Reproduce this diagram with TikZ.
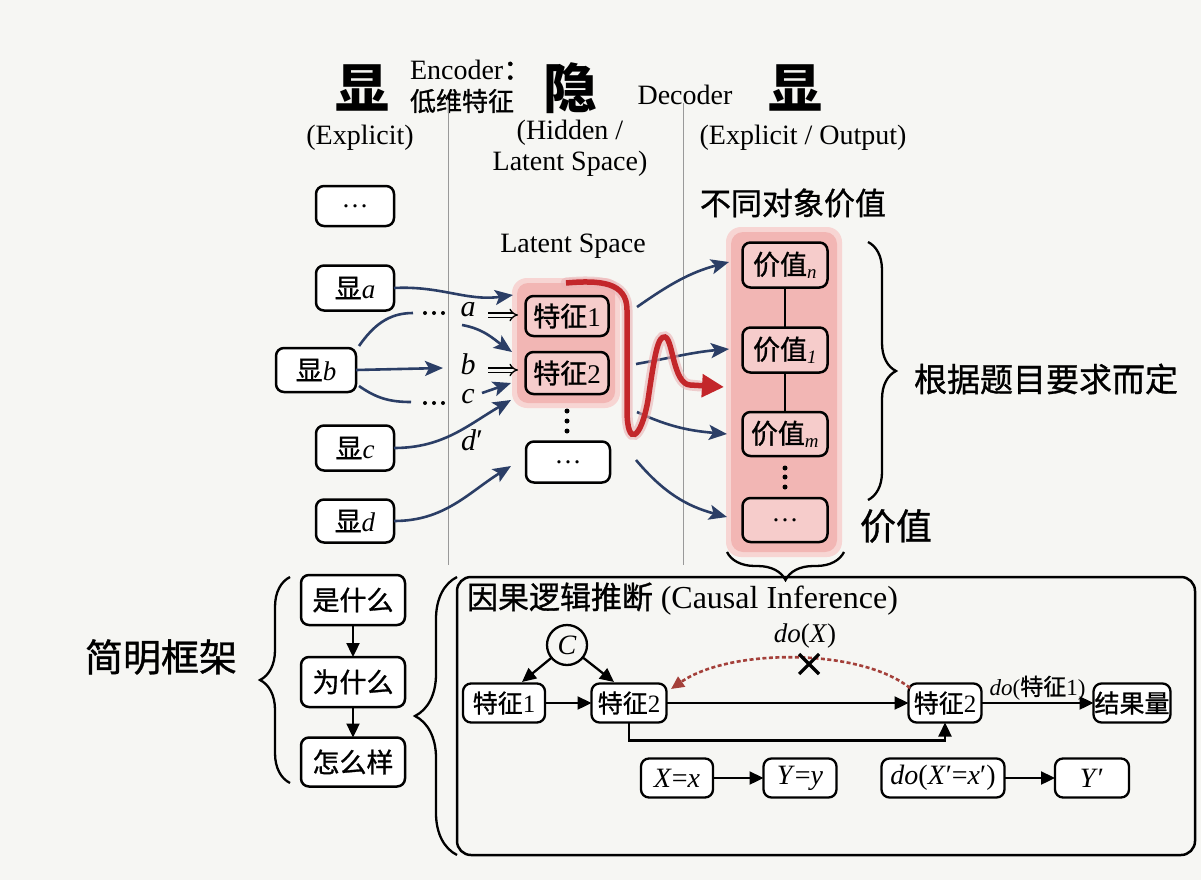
\documentclass[tikz,border=0pt]{standalone}
\usepackage{fontspec}
\setmainfont{Liberation Serif}
\newfontfamily\cjk{Noto Sans CJK SC}[FakeBold=1]
\newfontfamily\cjkbig{Noto Sans CJK SC}
\usetikzlibrary{arrows.meta,decorations.pathreplacing,calc}
\definecolor{bgc}{HTML}{F6F6F3}
\definecolor{navy}{HTML}{2B3E66}
\definecolor{pinkf}{HTML}{F2B6B4}
\definecolor{pinkb}{HTML}{F7D5D3}
\definecolor{wred}{HTML}{C3262A}
\definecolor{dred}{HTML}{A4403A}
\newcommand{\fsz}[2]{\fontsize{#1pt}{#2pt}\selectfont}
\newcommand{\zh}[1]{{\cjk #1}}
\begin{document}
\begin{tikzpicture}[x=1pt,y=-1pt,
  every node/.style={inner sep=0pt,outer sep=0pt},
  box/.style={draw,line width=2.5pt,rounded corners=8pt,fill=white,font=\fsz{27}{32}},
  pbox/.style={box,fill=pinkf!70!white},
  cbox/.style={box,line width=2.3pt,font=\fsz{25}{30},minimum height=39pt},
  mbox/.style={cbox,font=\fsz{28}{32}},
  barrow/.style={draw=navy,line width=2.6pt,-{Stealth[length=18pt,width=15pt,inset=4pt]}},
  bline/.style={draw=navy,line width=2.6pt},
  karrow/.style={draw=black,line width=2.3pt,-{Triangle[length=14pt,width=13pt]}},
  brc/.style={decorate,decoration={brace,amplitude=#1},line width=2.3pt},
  hdr/.style={font=\fsz{28}{31}},
  big/.style={font=\fsz{54}{60}\cjkbig\bfseries},
  dbl/.style={double=bgc,double distance=3pt,line width=1.3pt,-{Implies}},
]
\fill[bgc] (0,0) rectangle (1201,880);
\useasboundingbox (0,0) rectangle (1201,880);

% ---------- header ----------
\node[big] (xian1) at (362,88) {显};
\node[hdr,anchor=west] (enc1) at (410,70) {Encoder\zh{：}};
\node[anchor=west,font=\fsz{26}{30}\cjk] (enc2) at (410,101) {低维特征};
\node[big] (yin) at (570,88) {隐};
\node[hdr] (dec) at (685,95) {Decoder};
\node[big] (xian2) at (795,88) {显};
\node[hdr] (expl) at (360,138) {(Explicit)};
\node[hdr,align=center] (hid) at (570,148) {(Hidden /\\Latent Space)};
\node[hdr] (explout) at (803,138) {(Explicit / Output)};

\draw[gray!80,line width=1pt] (448,100) -- (448,565);
\draw[gray!80,line width=1pt] (683,103) -- (683,565);

% ---------- explicit column ----------
\node[box,minimum width=78pt,minimum height=40pt] (e0) at (355,206) {…};
\node[box,minimum width=78pt,minimum height=45pt] (ea) at (355,288) {\zh{显}\textit{a}};
\node[box,minimum width=80pt,minimum height=44pt] (eb) at (316,370) {\zh{显}\textit{b}};
\node[box,minimum width=78pt,minimum height=45pt] (ec) at (355,448) {\zh{显}\textit{c}};
\node[box,minimum width=78pt,minimum height=43pt] (ed) at (355,521) {\zh{显}\textit{d}};

% ---------- latent ----------
\node[hdr] (lsl) at (573,246) {Latent Space};
\node[fill=pinkb,rounded corners=15pt,minimum width=108pt,minimum height=130pt] (latg) at (566,343) {};
\node[fill=pinkf,rounded corners=11pt,minimum width=98pt,minimum height=120pt] (lat) at (566,343) {};
\node[pbox,minimum width=83pt,minimum height=40pt] (f1) at (567,316) {\zh{特征}1};
\node[pbox,minimum width=83pt,minimum height=42pt] (f2) at (567,373) {\zh{特征}2};
\foreach \y in {411,421,431} \fill (567,\y) circle (2.5);
\node[box,minimum width=84pt,minimum height=41pt] (fd) at (568,462) {…};

% labels on arrows
\node[font=\fsz{30}{34}\itshape] (la) at (468,310) {a};
\node[font=\fsz{30}{34}\itshape] (lb) at (468,364) {b};
\node[font=\fsz{30}{34}\itshape] (lc) at (468,397) {c};
\node[font=\fsz{30}{34}] (ld) at (472,440) {\textit{d}′};
\coordinate (ia1) at (488,315); \coordinate (ia2) at (518,315);
\coordinate (ib1) at (488,370); \coordinate (ib2) at (518,370);
\draw[dbl] (ia1) -- (ia2);
\draw[dbl] (ib1) -- (ib2);

% blue arrows into latent
\coordinate (ta) at (513,295);
\draw[barrow] (ea.east) to[out=3,in=188] (ta);
\coordinate (sb1) at (359,346); \coordinate (ub) at (413,313);
\draw[bline] (sb1) to[out=55,in=180] (ub);
\foreach \x in {425,434,443} \fill (\x,313) circle (2);
\coordinate (sb2) at (359,386); \coordinate (lbb) at (411,402);
\draw[bline] (sb2) to[out=-35,in=180] (lbb);
\foreach \x in {425,434,443} \fill (\x,403) circle (2);
\coordinate (tb) at (443,368);
\draw[barrow] (eb.east) -- (tb);
\coordinate (sa) at (462,325); \coordinate (taf2) at (512,352);
\draw[barrow] (sa) to[out=-10,in=145] (taf2);
\coordinate (sc) at (482,393); \coordinate (tc) at (511,383);
\draw[barrow] (sc) -- (tc);
\coordinate (tcc) at (511,400);
\draw[barrow] (ec.east) to[out=0,in=-150] (tcc);
\coordinate (tdd) at (511,466);
\draw[barrow] (ed.east) to[out=0,in=-148] (tdd);

% ---------- value column ----------
\node[font=\fsz{31}{36}\cjk] (dv) at (793,203) {不同对象价值};
\node[fill=pinkb,rounded corners=15pt,minimum width=116pt,minimum height=330pt] (vcolg) at (784,392) {};
\node[fill=pinkf,rounded corners=12pt,minimum width=106pt,minimum height=320pt] (vcol) at (784,392) {};
\node[pbox,minimum width=85pt,minimum height=45pt] (vn) at (785,265) {\zh{价值}\textsubscript{\textit{n}}};
\node[pbox,minimum width=85pt,minimum height=45pt] (v1) at (785,350) {\zh{价值}\textsubscript{\textit{1}}};
\node[pbox,minimum width=85pt,minimum height=44pt] (vm) at (785,434) {\zh{价值}\textsubscript{\textit{m}}};
\foreach \y in {468,477,487} \fill (785,\y) circle (2.5);
\node[pbox,minimum width=85pt,minimum height=44pt] (vd) at (785,520) {…};
\draw[line width=2.5pt] (vn) -- (v1);
\draw[line width=2.5pt] (v1) -- (vm);

% blue arrows out of latent
\coordinate (sa1) at (637,307); \coordinate (tv1) at (729,262);
\coordinate (sa2) at (636,364); \coordinate (tv2) at (729,349);
\coordinate (sa3) at (637,412); \coordinate (tv3) at (727,434);
\coordinate (sa4) at (636,460); \coordinate (tv4) at (727,517);
\draw[barrow] (sa1) to[out=35,in=195] (tv1);
\draw[barrow] (sa2) to[out=10,in=185] (tv2);
\draw[barrow] (sa3) to[out=-25,in=175] (tv3);
\draw[barrow] (sa4) to[out=-50,in=165] (tv4);

% red wave
\coordinate (rw0) at (566,283); \coordinate (rw1) at (724,387);
\draw[wred!35,line width=11pt,line cap=round,opacity=0.6]
  (rw0) .. controls (600,280) and (627,282) .. (627,310) -- (627,410)
  .. controls (627,448) and (641,440) .. (648,400)
  .. controls (655,352) and (658,336) .. (665,337)
  .. controls (673,339) and (673,384) .. (690,385) -- (700,386);
\draw[wred,line width=5.5pt,-{Triangle[length=22pt,width=22pt]}]
  (rw0) .. controls (600,280) and (627,282) .. (627,310) -- (627,410)
  .. controls (627,448) and (641,440) .. (648,400)
  .. controls (655,352) and (658,336) .. (665,337)
  .. controls (673,339) and (673,384) .. (690,385) -- (rw1);

% braces and labels right
\draw[brc=28pt] (868,242) -- (868,500);
\node[anchor=west,font=\fsz{33}{38}\cjk] (req) at (914,379) {根据题目要求而定};
\node[font=\fsz{36}{40}\cjk] (val) at (896,526) {价值};
\draw[brc=28pt] (844,552) -- (727,552);

% ---------- bottom left ----------
\node[font=\fsz{38}{44}\cjk] (fw) at (161,657) {简明框架};
\draw[brc=30pt] (290,783) -- (290,577);
\node[box,minimum width=104pt,minimum height=50pt] (q1) at (353,600) {\zh{是什么}};
\node[box,minimum width=104pt,minimum height=50pt] (q2) at (353,682) {\zh{为什么}};
\node[box,minimum width=104pt,minimum height=49pt] (q3) at (353,762) {\zh{怎么样}};
\draw[karrow] (q1) -- (q2);
\draw[karrow] (q2) -- (q3);

% ---------- causal box ----------
\draw[brc=42pt] (457,855) -- (457,577);
\node[draw,line width=2.5pt,rounded corners=14pt,minimum width=738pt,minimum height=278pt] (cb) at (826,716) {};
\node[anchor=west] (ct) at (467,599) {\fsz{31}{36}\zh{因果逻辑推断} \fsz{32}{36}(Causal Inference)};

\node[draw,circle,line width=2.3pt,minimum size=40pt,font=\fsz{28}{30}\itshape] (C) at (567,645) {C};
\node[cbox,minimum width=82pt] (lf1) at (504,703) {\zh{特征}1};
\node[cbox,minimum width=75pt] (lf2) at (629,703) {\zh{特征}2};
\node[cbox,minimum width=73pt] (rf2) at (945,703) {\zh{特征}2};
\node[cbox,minimum width=77pt] (out) at (1132,703) {\zh{结果量}};
\coordinate (ca) at (522,682); \coordinate (cbb) at (614,682);
\draw[karrow] (C) -- (ca);
\draw[karrow] (C) -- (cbb);
\draw[karrow] (lf1) -- (lf2);
\draw[karrow] (lf2) -- (rf2);
\draw[karrow] (lf2.south) -- ++(0,18) -| (rf2.south);
\draw[karrow] (rf2) -- node[above=3pt,font=\fsz{23}{26}] (dol) {\textit{do}(\zh{特征}1)} (out);

\coordinate (dsA) at (910,688); \coordinate (dsB) at (671,689);
\draw[dred,line width=2.6pt,dash pattern=on 4pt off 2.5pt,-{Triangle[length=13pt,width=12pt]}]
  (dsA) .. controls (860,648) and (730,648) .. (dsB);
\coordinate (xm) at (809,664);
\draw[line width=3.2pt] ($(xm)+(-10,-10)$) -- ($(xm)+(10,10)$);
\draw[line width=3.2pt] ($(xm)+(-10,10)$) -- ($(xm)+(10,-10)$);
\node[font=\fsz{27}{30}] (dox) at (805,636) {\textit{do}(\textit{X})};

\node[mbox,minimum width=72pt] (xx) at (677,778) {\textit{X}=\textit{x}};
\node[mbox,minimum width=73pt] (yy) at (800,778) {\textit{Y}=\textit{y}};
\node[mbox,minimum width=123pt] (dxx) at (943,778) {\textit{do}(\textit{X}′=\textit{x}′)};
\node[mbox,minimum width=74pt] (yp) at (1092,778) {\textit{Y}′};
\draw[karrow] (xx) -- (yy);
\draw[karrow] (dxx) -- (yp);
\end{tikzpicture}
\end{document}
